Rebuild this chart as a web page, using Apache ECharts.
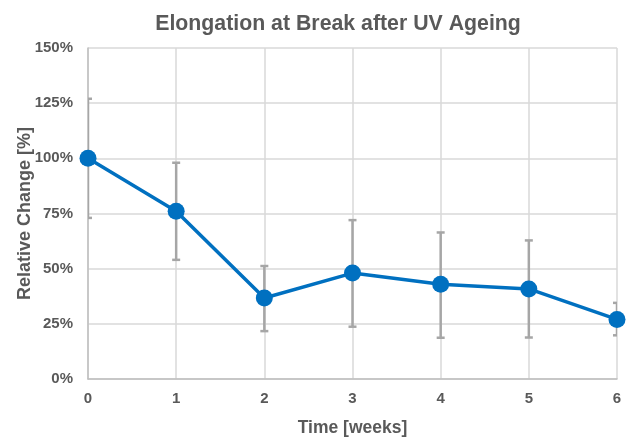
<!DOCTYPE html>
<html>
<head>
<meta charset="utf-8">
<script src="https://cdn.jsdelivr.net/npm/echarts@6/dist/echarts.min.js"></script>
<style>
html, body { margin: 0; padding: 0; background: #fff; }
#main { width: 629px; height: 439px; }
</style>
</head>
<body>
<div id="main"></div>
<script>
// values
var weeks = [0, 1, 2, 3, 4, 5, 6]
var relChange = [100, 76, 36.7, 48, 42.9, 40.8, 27]
var errPlus = [27, 22, 14.5, 24, 23.5, 22, 7.5]
var errMinus = [27, 22, 15, 24.3, 24.2, 22, 7.2]
var yTicks = [0, 25, 50, 75, 100, 125, 150]

var font = 'Liberation Sans, Arial, sans-serif'
var grey = '#595959'

var lineData = weeks.map(function (w, i) { return [w, relChange[i]] })
var errData = weeks.map(function (w, i) {
	return [w, relChange[i] - errMinus[i], relChange[i] + errPlus[i]]
})

var myChart = echarts.init(document.getElementById('main'))
var option = {
	animation: false,
	backgroundColor: '#fff',
	title: {
		text: 'Elongation at Break after UV Ageing',
		left: 333,
		textAlign: 'center',
		top: 9,
		textStyle: { fontFamily: font, fontSize: 21.3, fontWeight: 'bold', color: grey }
	},
	grid: { left: 88, right: 12, top: 48, bottom: 60, outerBoundsMode: 'none', containLabel: false },
	xAxis: {
		type: 'value',
		min: 0,
		max: 6,
		interval: 1,
		name: 'Time [weeks]',
		nameLocation: 'middle',
		nameGap: 40,
		nameMoveOverlap: false,
		nameTextStyle: { fontFamily: font, fontSize: 17.5, fontWeight: 'bold', color: grey },
		axisLine: { show: true, lineStyle: { color: '#bfbfbf', width: 1.5 } },
		axisTick: { show: false },
		axisLabel: { fontFamily: font, fontSize: 15, fontWeight: 'bold', color: grey, margin: 12 },
		splitLine: { show: true, lineStyle: { color: '#d9d9d9', width: 1.5 } }
	},
	yAxis: {
		type: 'value',
		min: yTicks[0],
		max: yTicks[yTicks.length - 1],
		interval: 25,
		name: 'Relative Change [%]',
		nameLocation: 'middle',
		nameGap: 54,
		nameMoveOverlap: false,
		nameTextStyle: { fontFamily: font, fontSize: 18, fontWeight: 'bold', color: grey },
		axisLine: { show: true, lineStyle: { color: '#bfbfbf', width: 1.5 } },
		axisTick: { show: false },
		axisLabel: { fontFamily: font, fontSize: 15, fontWeight: 'bold', color: grey, margin: 15, formatter: '{value}%' },
		splitLine: { show: true, lineStyle: { color: '#d9d9d9', width: 1.5 } }
	},
	series: [
		{
			type: 'custom',
			clip: true,
			z: 1,
			data: errData,
			renderItem: function (params, api) {
				var x = api.value(0)
				var lo = api.coord([x, api.value(1)])
				var hi = api.coord([x, api.value(2)])
				var cap = 4
				var style = { stroke: '#a6a6a6', lineWidth: 2.5 }
				return {
					type: 'group',
					children: [
						{ type: 'line', shape: { x1: lo[0], y1: lo[1], x2: hi[0], y2: hi[1] }, style: style },
						{ type: 'line', shape: { x1: hi[0] - cap, y1: hi[1], x2: hi[0] + cap, y2: hi[1] }, style: style },
						{ type: 'line', shape: { x1: lo[0] - cap, y1: lo[1], x2: lo[0] + cap, y2: lo[1] }, style: style }
					]
				}
			}
		},
		{
			type: 'line',
			z: 3,
			data: lineData,
			symbol: 'circle',
			symbolSize: 17,
			clip: false,
			lineStyle: { color: '#0070c0', width: 3.5 },
			itemStyle: { color: '#0070c0' }
		}
	]
}
myChart.setOption(option)
</script>
</body>
</html>
